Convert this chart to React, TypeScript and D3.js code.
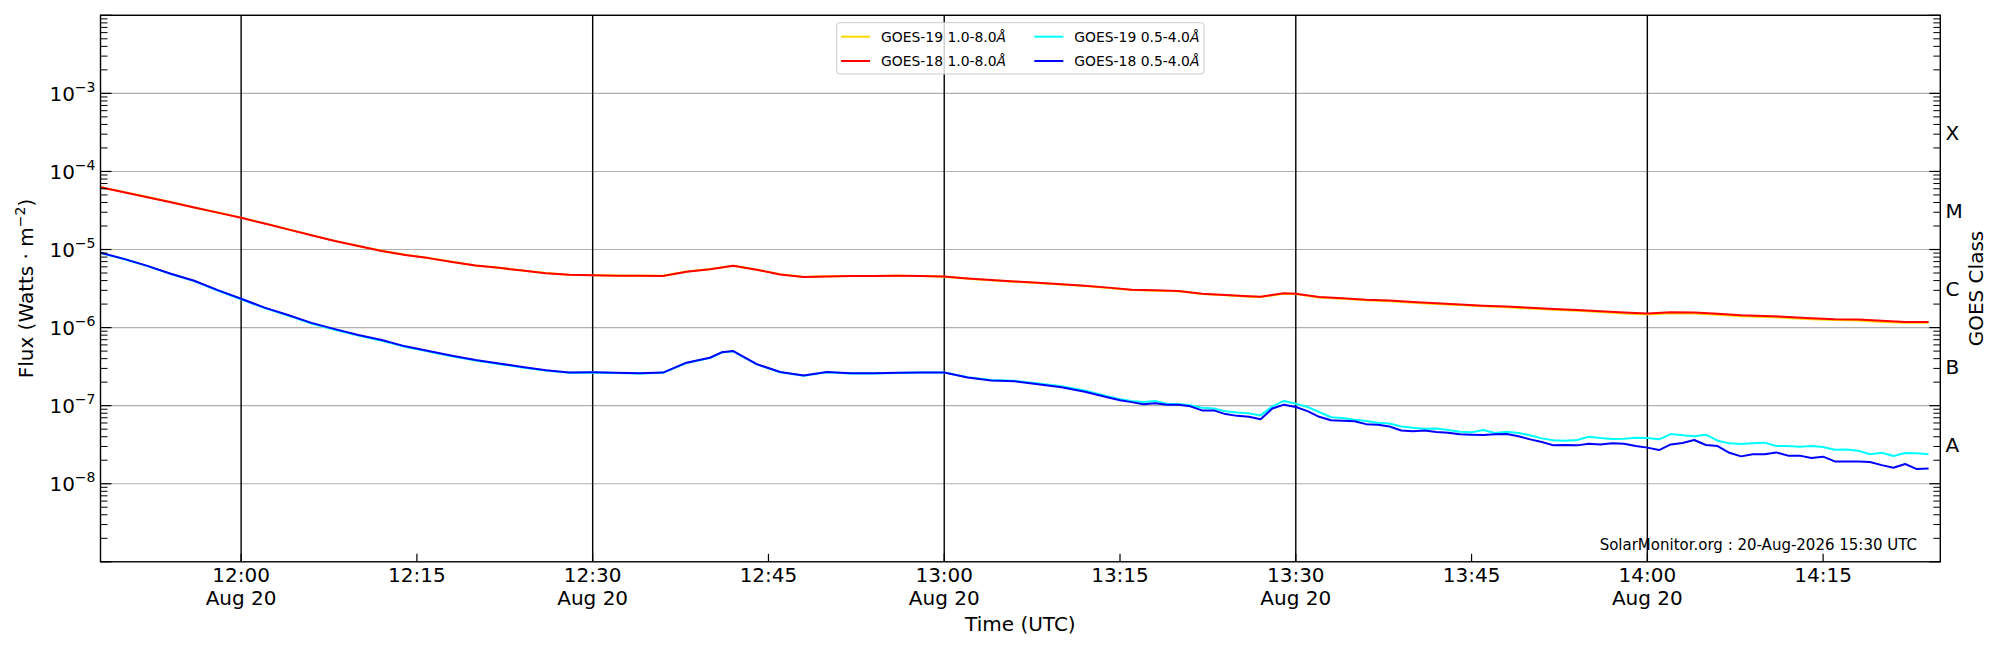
import React from "react";
import * as d3 from "d3";

// GOES X-ray flux, 20 Aug 2026, minutes after 11:48 UTC
const START = "2026-08-20T11:48:00Z";
const AXIS_END = "2026-08-20T14:25:00Z";

const longMinutes = [
  0, 2, 4, 6, 8, 10, 12, 14, 16, 18, 20, 22, 24, 26, 28, 30, 32, 34, 36, 38, 40, 42, 44, 46, 48,
  50, 52, 54, 56, 58, 60, 62, 64, 66, 68, 70, 72, 74, 76, 78, 80, 82, 84, 86, 88, 90, 92, 94, 96,
  98, 99, 101, 102, 104, 106, 108, 110, 112, 114, 116, 118, 120, 122, 124, 126, 128, 130, 132,
  134, 136, 138, 140, 142, 144, 146, 148, 150, 152, 154, 156,
];
const goes18Long = [
  6.26e-5, 5.43e-5, 4.68e-5, 4.03e-5, 3.45e-5, 2.97e-5, 2.55e-5, 2.15e-5, 1.81e-5, 1.52e-5,
  1.285e-5, 1.11e-5, 9.6e-6, 8.5e-6, 7.76e-6, 6.92e-6, 6.24e-6, 5.82e-6, 5.38e-6, 4.98e-6,
  4.74e-6, 4.67e-6, 4.62e-6, 4.6e-6, 4.58e-6, 5.2e-6, 5.57e-6, 6.21e-6, 5.5e-6, 4.8e-6,
  4.44e-6, 4.52e-6, 4.58e-6, 4.58e-6, 4.6e-6, 4.58e-6, 4.5e-6, 4.25e-6, 4.06e-6, 3.9e-6,
  3.76e-6, 3.6e-6, 3.44e-6, 3.25e-6, 3.05e-6, 3.0e-6, 2.95e-6, 2.72e-6, 2.62e-6,
  2.52e-6, 2.49e-6, 2.75e-6, 2.72e-6, 2.47e-6, 2.38e-6, 2.28e-6, 2.22e-6, 2.12e-6, 2.05e-6,
  1.98e-6, 1.91e-6, 1.86e-6, 1.79e-6, 1.73e-6, 1.68e-6, 1.62e-6, 1.56e-6, 1.51e-6,
  1.57e-6, 1.56e-6, 1.5e-6, 1.44e-6, 1.41e-6, 1.37e-6, 1.32e-6, 1.28e-6, 1.27e-6, 1.22e-6,
  1.18e-6, 1.18e-6,
];
const goes19Long = [
  6.3e-5, 5.45e-5, 4.7e-5, 4.05e-5, 3.46e-5, 2.98e-5, 2.56e-5, 2.16e-5, 1.82e-5, 1.53e-5,
  1.29e-5, 1.11e-5, 9.65e-6, 8.55e-6, 7.8e-6, 6.95e-6, 6.26e-6, 5.84e-6, 5.4e-6, 5.0e-6,
  4.76e-6, 4.68e-6, 4.63e-6, 4.6e-6, 4.6e-6, 5.22e-6, 5.6e-6, 6.18e-6, 5.52e-6, 4.82e-6,
  4.46e-6, 4.53e-6, 4.58e-6, 4.57e-6, 4.6e-6, 4.57e-6, 4.48e-6, 4.22e-6, 4.03e-6, 3.87e-6,
  3.73e-6, 3.57e-6, 3.41e-6, 3.22e-6, 3.02e-6, 2.97e-6, 2.92e-6, 2.69e-6, 2.59e-6,
  2.49e-6, 2.46e-6, 2.72e-6, 2.69e-6, 2.43e-6, 2.34e-6, 2.24e-6, 2.18e-6, 2.08e-6, 2.01e-6,
  1.94e-6, 1.87e-6, 1.82e-6, 1.75e-6, 1.69e-6, 1.64e-6, 1.58e-6, 1.52e-6, 1.47e-6,
  1.53e-6, 1.52e-6, 1.46e-6, 1.4e-6, 1.37e-6, 1.33e-6, 1.28e-6, 1.25e-6, 1.23e-6, 1.18e-6,
  1.15e-6, 1.15e-6,
];

const shortMinutes = [
  0, 2, 4, 6, 8, 10, 12, 14, 16, 18, 20, 22, 24, 26, 28, 30, 32, 34, 36, 38, 40, 42, 44, 46, 48,
  50, 52, 53, 54, 56, 58, 60, 62, 64, 66, 68, 70, 72, 74, 76, 78, 80, 82, 84, 86,
  87, 88, 89, 90, 91, 92, 93, 94, 95, 96, 97, 98, 99, 100, 101, 102, 103, 104, 105, 106, 107,
  108, 109, 110, 111, 112, 113, 114, 115, 116, 117, 118, 119, 120, 121, 122, 123, 124, 125,
  126, 127, 128, 129, 130, 131, 132, 133, 134, 135, 136, 137, 138, 139, 140, 141, 142, 143,
  144, 145, 146, 147, 148, 149, 150, 151, 152, 153, 154, 155, 156,
];
const goes18Short = [
  9.1e-6, 7.59e-6, 6.17e-6, 4.9e-6, 3.98e-6, 3.02e-6, 2.34e-6, 1.8e-6, 1.45e-6, 1.15e-6,
  9.55e-7, 8.04e-7, 6.92e-7, 5.75e-7, 5.01e-7, 4.37e-7, 3.85e-7, 3.47e-7, 3.13e-7, 2.85e-7,
  2.66e-7, 2.67e-7, 2.64e-7, 2.6e-7, 2.65e-7, 3.55e-7, 4.11e-7, 4.82e-7, 5.01e-7, 3.4e-7,
  2.7e-7, 2.44e-7, 2.7e-7, 2.6e-7, 2.6e-7, 2.63e-7, 2.66e-7, 2.66e-7, 2.3e-7, 2.1e-7,
  2.05e-7, 1.88e-7, 1.72e-7, 1.51e-7, 1.27e-7,
  1.17e-7, 1.11e-7, 1.04e-7, 1.07e-7, 1.03e-7, 1.03e-7, 9.8e-8, 8.7e-8, 8.7e-8, 7.8e-8,
  7.4e-8, 7.2e-8, 6.7e-8, 9.2e-8, 1.03e-7, 9.6e-8, 8.5e-8, 7.2e-8, 6.5e-8, 6.4e-8, 6.3e-8,
  5.8e-8, 5.7e-8, 5.4e-8, 4.8e-8, 4.7e-8, 4.8e-8, 4.6e-8, 4.5e-8, 4.3e-8, 4.25e-8, 4.2e-8,
  4.3e-8, 4.33e-8, 4.05e-8, 3.7e-8, 3.42e-8, 3.1e-8, 3.13e-8, 3.1e-8, 3.26e-8, 3.19e-8,
  3.29e-8, 3.26e-8, 3.04e-8, 2.9e-8, 2.7e-8, 3.19e-8, 3.32e-8, 3.63e-8, 3.13e-8, 3.04e-8,
  2.49e-8, 2.24e-8, 2.38e-8, 2.38e-8, 2.52e-8, 2.29e-8, 2.29e-8, 2.13e-8, 2.22e-8, 1.93e-8,
  1.93e-8, 1.93e-8, 1.9e-8, 1.73e-8, 1.6e-8, 1.79e-8, 1.54e-8, 1.57e-8,
];
const goes19Short = [
  9.0e-6, 7.55e-6, 6.12e-6, 4.86e-6, 3.94e-6, 2.99e-6, 2.31e-6, 1.78e-6, 1.43e-6, 1.13e-6,
  9.4e-7, 7.9e-7, 6.8e-7, 5.66e-7, 4.94e-7, 4.3e-7, 3.8e-7, 3.42e-7, 3.09e-7, 2.82e-7,
  2.63e-7, 2.65e-7, 2.62e-7, 2.58e-7, 2.63e-7, 3.52e-7, 4.08e-7, 4.78e-7, 4.97e-7, 3.38e-7,
  2.68e-7, 2.42e-7, 2.68e-7, 2.58e-7, 2.59e-7, 2.62e-7, 2.66e-7, 2.66e-7, 2.32e-7, 2.13e-7,
  2.08e-7, 1.92e-7, 1.77e-7, 1.56e-7, 1.31e-7,
  1.21e-7, 1.15e-7, 1.11e-7, 1.15e-7, 1.06e-7, 1.05e-7, 1.01e-7, 9.4e-8, 9.2e-8, 8.5e-8,
  8.2e-8, 8.0e-8, 7.5e-8, 9.8e-8, 1.15e-7, 1.06e-7, 9.6e-8, 8.3e-8, 7.1e-8, 6.95e-8, 6.6e-8,
  6.35e-8, 6.05e-8, 5.9e-8, 5.4e-8, 5.2e-8, 5.07e-8, 5.1e-8, 4.88e-8, 4.64e-8, 4.55e-8, 4.88e-8,
  4.46e-8, 4.64e-8, 4.46e-8, 4.17e-8, 3.81e-8, 3.6e-8, 3.56e-8, 3.63e-8, 4.0e-8, 3.85e-8,
  3.74e-8, 3.77e-8, 3.89e-8, 3.85e-8, 3.7e-8, 4.33e-8, 4.17e-8, 4.05e-8, 4.25e-8, 3.56e-8,
  3.29e-8, 3.23e-8, 3.29e-8, 3.36e-8, 3.04e-8, 3.04e-8, 2.98e-8, 3.04e-8, 2.95e-8, 2.73e-8,
  2.75e-8, 2.65e-8, 2.38e-8, 2.49e-8, 2.26e-8, 2.47e-8, 2.45e-8, 2.38e-8,
];

const classLetters = ["A", "B", "C", "M", "X"];
const classFloors = [1e-8, 1e-7, 1e-6, 1e-5, 1e-4];

const legendItems = [
  { sat: "GOES-19", band: "1.0-8.0", color: "#ffd700" },
  { sat: "GOES-18", band: "1.0-8.0", color: "#ff0000" },
  { sat: "GOES-19", band: "0.5-4.0", color: "#00ffff" },
  { sat: "GOES-18", band: "0.5-4.0", color: "#0000ff" },
];

const FONT = "DejaVu Sans, Liberation Sans, sans-serif";

export default function App() {
  const width = 2000;
  const height = 650;
  const margin = { left: 100.5, right: 2000 - 1940.3, top: 15.3, bottom: 650 - 561.8 };
  const x0 = margin.left;
  const x1 = width - margin.right;
  const y0 = margin.top;
  const y1 = height - margin.bottom;

  const startMs = new Date(START).getTime();
  const x = d3.scaleUtc().domain([new Date(START), new Date(AXIS_END)]).range([x0, x1]);
  const y = d3.scaleLog().domain([1e-9, 1e-2]).range([y1, y0]);

  const xm = (m: number) => x(new Date(startMs + m * 60000));
  const line = d3
    .line<[number, number]>()
    .x((d) => xm(d[0]))
    .y((d) => y(d[1]));

  const series = [
    { mins: longMinutes, vals: goes19Long, color: "#ffd700" },
    { mins: longMinutes, vals: goes18Long, color: "#ff0000" },
    { mins: shortMinutes, vals: goes19Short, color: "#00ffff" },
    { mins: shortMinutes, vals: goes18Short, color: "#0000ff" },
  ];

  const decades = d3.range(-9, -1).map((e) => Math.pow(10, e));
  const majors = d3.range(-9, -1.5).map((e) => Math.pow(10, e));
  const minors: number[] = [];
  decades.forEach((d) => {
    for (let k = 2; k <= 9; k++) minors.push(d * k);
  });
  const labelled = d3.range(-8, -2.5).map((e) => e);

  const quarterTicks = x.ticks(d3.utcMinute.every(15)!);
  const halfHours = x.ticks(d3.utcMinute.every(30)!);
  const fmtTime = d3.utcFormat("%H:%M");
  const fmtDay = d3.utcFormat("%b %d");

  const bigFont = 20;
  const legendFont = 13.9;

  return (
    <svg
      width={width}
      height={height}
      style={{ position: "absolute", left: 0, top: 0, background: "#fff" }}
      fontFamily={FONT}
    >
      <rect x={0} y={0} width={width} height={height} fill="#fff" />

      {/* horizontal grid at decades */}
      {decades.slice(1).map((d) => (
        <line key={"g" + d} x1={x0} x2={x1} y1={y(d)} y2={y(d)} stroke="#b0b0b0" strokeWidth={1.1} />
      ))}

      {/* half-hour markers */}
      {halfHours.map((t) => (
        <line key={"v" + t.getTime()} x1={x(t)} x2={x(t)} y1={y0} y2={y1} stroke="#000" strokeWidth={1.4} />
      ))}

      {/* flux curves */}
      {series.map((s, i) => (
        <path
          key={"s" + i}
          d={line(s.mins.map((m, j) => [m, s.vals[j]] as [number, number])) || ""}
          fill="none"
          stroke={s.color}
          strokeWidth={2}
          strokeLinejoin="round"
        />
      ))}

      {/* y ticks, both sides, inward */}
      {majors.map((d) => (
        <g key={"mj" + d}>
          <line x1={x0} x2={x0 + 11} y1={y(d)} y2={y(d)} stroke="#000" strokeWidth={1.2} />
          <line x1={x1} x2={x1 - 11} y1={y(d)} y2={y(d)} stroke="#000" strokeWidth={1.2} />
        </g>
      ))}
      {minors.map((d) => (
        <g key={"mn" + d}>
          <line x1={x0} x2={x0 + 7} y1={y(d)} y2={y(d)} stroke="#000" strokeWidth={1} />
          <line x1={x1} x2={x1 - 7} y1={y(d)} y2={y(d)} stroke="#000" strokeWidth={1} />
        </g>
      ))}

      {/* y tick labels */}
      {labelled.map((e) => (
        <text key={"yl" + e} x={x0 - 5} y={y(Math.pow(10, e)) + 7.2} textAnchor="end" fontSize={bigFont} fill="#000">
          10
          <tspan dy={-8.5} fontSize={14}>
            {"\u2212" + Math.abs(e)}
          </tspan>
        </text>
      ))}

      {/* x ticks and labels */}
      {quarterTicks.map((t) => {
        const onHalf = t.getUTCMinutes() % 30 === 0;
        return (
          <g key={"xt" + t.getTime()}>
            <line x1={x(t)} x2={x(t)} y1={y1} y2={y1 - 8} stroke="#000" strokeWidth={1.2} />
            <text x={x(t)} y={582} textAnchor="middle" fontSize={bigFont} fill="#000">
              {fmtTime(t)}
            </text>
            {onHalf && (
              <text x={x(t)} y={605} textAnchor="middle" fontSize={bigFont} fill="#000">
                {fmtDay(t)}
              </text>
            )}
          </g>
        );
      })}

      {/* GOES class letters */}
      {classLetters.map((c, i) => (
        <text
          key={"c" + c}
          x={1945.5}
          y={y(Math.sqrt(classFloors[i] * classFloors[i] * 10)) + 7.3}
          fontSize={bigFont}
          fill="#000"
        >
          {c}
        </text>
      ))}

      {/* frame */}
      <rect x={x0} y={y0} width={x1 - x0} height={y1 - y0} fill="none" stroke="#000" strokeWidth={1.4} />

      {/* axis titles */}
      <text x={(x0 + x1) / 2} y={631} textAnchor="middle" fontSize={bigFont} fill="#000">
        Time (UTC)
      </text>
      <text
        transform={`translate(33,${(y0 + y1) / 2}) rotate(-90)`}
        textAnchor="middle"
        fontSize={bigFont}
        fill="#000"
      >
        Flux (Watts · m
        <tspan dy={-8} fontSize={14}>
          {"\u22122"}
        </tspan>
        <tspan dy={8}>)</tspan>
      </text>
      <text
        transform={`translate(1983,${(y0 + y1) / 2}) rotate(-90)`}
        textAnchor="middle"
        fontSize={bigFont}
        fill="#000"
      >
        GOES Class
      </text>

      <text x={1917} y={550} textAnchor="end" fontSize={15} fill="#000">
        SolarMonitor.org : 20-Aug-2026 15:30 UTC
      </text>

      {/* legend */}
      <g>
        <rect
          x={836.7}
          y={22.7}
          width={1204 - 836.7}
          height={74 - 22.7}
          rx={3}
          fill="#fff"
          fillOpacity={0.8}
          stroke="#cccccc"
          strokeWidth={1}
        />
        {legendItems.map((it, i) => {
          const col = Math.floor(i / 2);
          const row = i % 2;
          const lx = col === 0 ? 841 : 1034.3;
          const ly = row === 0 ? 36.7 : 61;
          return (
            <g key={"lg" + i}>
              <line x1={lx} x2={lx + 29} y1={ly} y2={ly} stroke={it.color} strokeWidth={2} />
              <text x={lx + 40} y={ly + 5} fontSize={legendFont} fill="#000">
                {`${it.sat} ${it.band}`}
                <tspan fontStyle="italic">Å</tspan>
              </text>
            </g>
          );
        })}
      </g>
    </svg>
  );
}
